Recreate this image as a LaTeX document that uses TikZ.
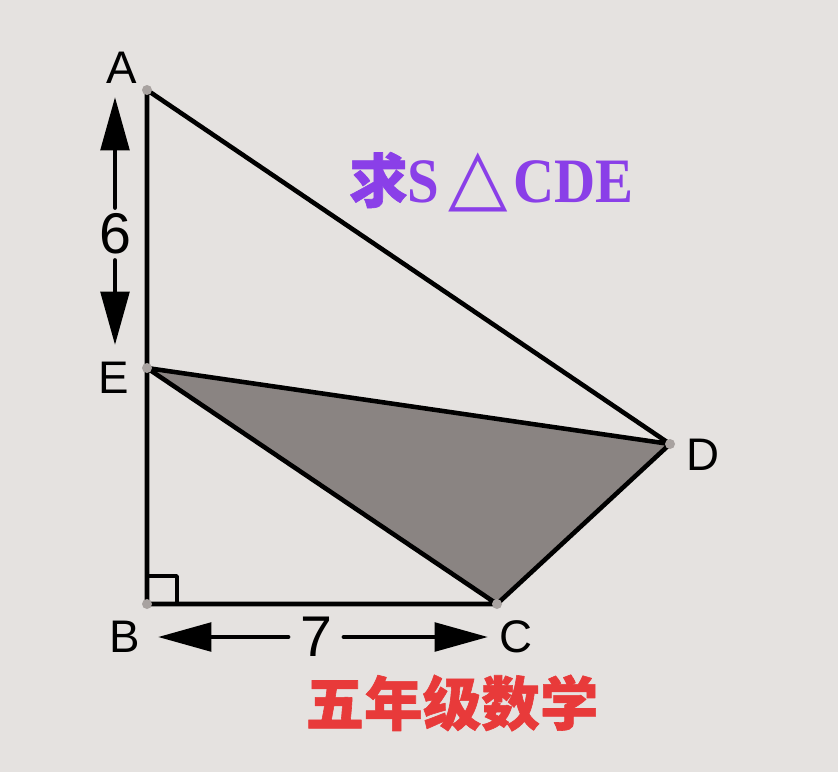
\documentclass[tikz,border=0pt]{standalone}
\usepackage{fontspec}
\setmainfont{Liberation Sans}
\newfontfamily\cjk{Noto Sans CJK SC}[BoldFeatures={FakeBold=1}]
\newfontfamily\serif{Liberation Serif}[FakeStretch=0.9]
\newfontfamily\sym{DejaVu Sans}
\usetikzlibrary{arrows.meta}
\definecolor{bg}{HTML}{E5E2E0}
\definecolor{cdefill}{HTML}{8A8482}
\definecolor{dotc}{HTML}{A8A2A0}
\definecolor{askc}{HTML}{8A3FE8}
\definecolor{gradec}{HTML}{E83A3A}
\tikzset{
  lbl/.style={font=\fontsize{39}{39}\selectfont},
  num/.style={font=\fontsize{49}{49}\selectfont, inner sep=5pt},
  side/.style={line width=3.9pt},
}
\begin{document}
\begin{tikzpicture}[x=0.03cm, y=-0.03cm, line join=round, line cap=round, >={Triangle[length=1.6cm,width=0.85cm]}]
\fill[bg] (0,0) rectangle (838,772);
% Đỉnh
\coordinate (A) at (147,90);
\coordinate (E) at (147,368);
\coordinate (B) at (147,604);
\coordinate (C) at (497,604);
\coordinate (D) at (670,444);
\fill[cdefill] (E)--(D)--(C)--cycle;
\draw[side] (A)--(B)--(C)--(D)--cycle (E)--(D) (E)--(C);
\draw[line width=3.2pt] (B) ++(0,-28) -| ++(30,28);
\foreach \p in {A,E,B,C,D} \fill[dotc] (\p) circle (5);
\node[lbl] (a) at (122,68) {A};
\node[lbl] (e) at (114,378) {E};
\node[lbl] (b) at (125,637) {B};
\node[lbl] (c) at (516,637) {C};
\node[lbl] (d) at (703,455) {D};
% Kích thước
\node[num] (six) at (115,234) {6};
\coordinate (sixtop) at (115,97);
\coordinate (sixbot) at (115,345);
\draw[->, line width=3.9pt] (six)--(sixtop);
\draw[->, line width=3.9pt] (six)--(sixbot);
\node[num, inner sep=10pt] (seven) at (316,637) {7};
\coordinate (sevenl) at (158,637);
\coordinate (sevenr) at (488,637);
\draw[->, line width=3.9pt] (seven)--(sevenl);
\draw[->, line width=3.9pt] (seven)--(sevenr);
\node[anchor=west, text=askc, inner sep=0pt] (ask) at (349,182) {{\fontsize{50}{50}\selectfont\cjk\bfseries 求}{\fontsize{54}{54}\selectfont\serif\bfseries S}\hspace{8pt}{\fontsize{66}{66}\selectfont\sym △}\hspace{4pt}{\fontsize{54}{54}\selectfont\serif\bfseries CDE}};
\node[text=gradec] (grade) at (452,703) {\fontsize{50}{50}\selectfont\cjk\bfseries 五年级数学};
\end{tikzpicture}
\end{document}
